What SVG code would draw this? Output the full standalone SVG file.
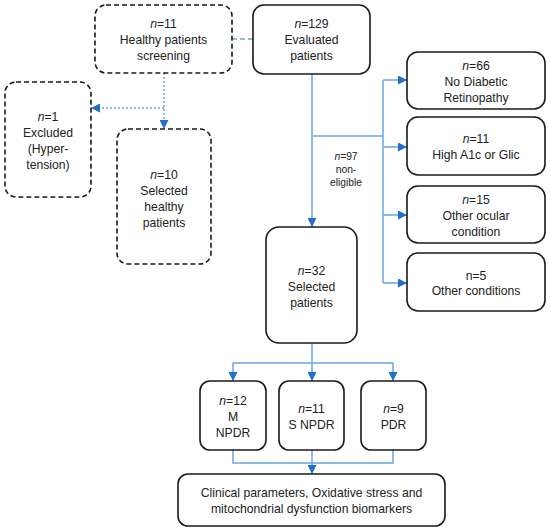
<svg xmlns="http://www.w3.org/2000/svg" width="550" height="532" viewBox="0 0 550 532">
<style>
.box{fill:#fff;stroke:#1a1a1a;stroke-width:1.6}
.dbox{fill:#fff;stroke:#1a1a1a;stroke-width:1.6;stroke-dasharray:5,3}
.t{font-family:"Liberation Sans",Arial,sans-serif;font-size:12.2px;fill:#222;text-anchor:middle}
.s{font-family:"Liberation Sans",Arial,sans-serif;font-size:10.3px;fill:#222;text-anchor:middle}
.ln{fill:none;stroke:#6aa5e6;stroke-width:1.5}
.dash{stroke-dasharray:5,3}
.dot{stroke-dasharray:2,2}
</style>
<defs>
<marker id="ah2" viewBox="0 0 10 10" refX="10" refY="5" markerWidth="9" markerHeight="9" orient="auto" markerUnits="userSpaceOnUse">
<path d="M0,0 L10,5 L0,10 z" fill="#1f6fd0"/>
</marker>
</defs>
<g id="connectors">
<path class="ln dash" d="M232,39 H253"/>
<path class="ln dot" d="M164,73 V129" marker-end="url(#ah2)"/>
<path class="ln dot" d="M164,108 H91" marker-end="url(#ah2)"/>
<path class="ln" d="M312,74 V227" marker-end="url(#ah2)"/>
<path class="ln" d="M313,136 H383"/>
<path class="ln" d="M383,80 V283"/>
<path class="ln" d="M383,80 H407" marker-end="url(#ah2)"/>
<path class="ln" d="M383,147 H407" marker-end="url(#ah2)"/>
<path class="ln" d="M383,215 H407" marker-end="url(#ah2)"/>
<path class="ln" d="M383,283 H407" marker-end="url(#ah2)"/>
<path class="ln" d="M312,343 V381" marker-end="url(#ah2)"/>
<path class="ln" d="M233,363 H393"/>
<path class="ln" d="M233,363 V381" marker-end="url(#ah2)"/>
<path class="ln" d="M393,363 V381" marker-end="url(#ah2)"/>
<path class="ln" d="M233,450 V463 H393 V450"/>
<path class="ln" d="M312,450 V474" marker-end="url(#ah2)"/>
</g>
<g id="screening">
<rect class="dbox" x="95" y="5" width="137" height="68" rx="11"/>
<text class="t" x="163.5" y="28"><tspan font-style="italic">n</tspan>=11</text>
<text class="t" x="163.5" y="44">Healthy patients</text>
<text class="t" x="163.5" y="60">screening</text>
</g>
<g id="excluded">
<rect class="dbox" x="5" y="82" width="86" height="115" rx="11"/>
<text class="t" x="48" y="121"><tspan font-style="italic">n</tspan>=1</text>
<text class="t" x="48" y="137">Excluded</text>
<text class="t" x="48" y="153">(Hyper-</text>
<text class="t" x="48" y="169">tension)</text>
</g>
<g id="healthy">
<rect class="dbox" x="117" y="129" width="94" height="135" rx="11"/>
<text class="t" x="164" y="179"><tspan font-style="italic">n</tspan>=10</text>
<text class="t" x="164" y="195">Selected</text>
<text class="t" x="164" y="211">healthy</text>
<text class="t" x="164" y="227">patients</text>
</g>
<g id="evaluated">
<rect class="box" x="253" y="5" width="117" height="69" rx="11"/>
<text class="t" x="311.5" y="28"><tspan font-style="italic">n</tspan>=129</text>
<text class="t" x="311.5" y="44">Evaluated</text>
<text class="t" x="311.5" y="60">patients</text>
</g>
<g id="nodr">
<rect class="box" x="407" y="52" width="138" height="57" rx="11"/>
<text class="t" x="476" y="70"><tspan font-style="italic">n</tspan>=66</text>
<text class="t" x="476" y="86">No Diabetic</text>
<text class="t" x="476" y="102">Retinopathy</text>
</g>
<g id="higha1c">
<rect class="box" x="407" y="117" width="138" height="58" rx="11"/>
<text class="t" x="476" y="143"><tspan font-style="italic">n</tspan>=11</text>
<text class="t" x="476" y="159">High A1c or Glic</text>
</g>
<g id="ocular">
<rect class="box" x="407" y="186" width="138" height="57" rx="11"/>
<text class="t" x="476" y="204"><tspan font-style="italic">n</tspan>=15</text>
<text class="t" x="476" y="220">Other ocular</text>
<text class="t" x="476" y="236">condition</text>
</g>
<g id="other">
<rect class="box" x="407" y="253" width="138" height="58" rx="11"/>
<text class="t" x="476" y="280">n=5</text>
<text class="t" x="476" y="295">Other conditions</text>
</g>
<g id="label97">
<text class="s" x="346" y="160"><tspan font-style="italic">n</tspan>=97</text>
<text class="s" x="346" y="173">non-</text>
<text class="s" x="346" y="186">eligible</text>
</g>
<g id="selected">
<rect class="box" x="266" y="227" width="91" height="116" rx="13"/>
<text class="t" x="311.5" y="275"><tspan font-style="italic">n</tspan>=32</text>
<text class="t" x="311.5" y="291">Selected</text>
<text class="t" x="311.5" y="307">patients</text>
</g>
<g id="mnpdr">
<rect class="box" x="200" y="381" width="66" height="69" rx="10"/>
<text class="t" x="233" y="405"><tspan font-style="italic">n</tspan>=12</text>
<text class="t" x="233" y="421">M</text>
<text class="t" x="233" y="437">NPDR</text>
</g>
<g id="snpdr">
<rect class="box" x="279" y="381" width="65" height="69" rx="10"/>
<text class="t" x="311.5" y="413"><tspan font-style="italic">n</tspan>=11</text>
<text class="t" x="311.5" y="429">S NPDR</text>
</g>
<g id="pdr">
<rect class="box" x="361" y="381" width="65" height="69" rx="10"/>
<text class="t" x="393.5" y="413"><tspan font-style="italic">n</tspan>=9</text>
<text class="t" x="393.5" y="429">PDR</text>
</g>
<g id="final">
<rect class="box" x="178" y="474" width="267" height="52" rx="10"/>
<text class="t" x="311.5" y="497">Clinical parameters, Oxidative stress and</text>
<text class="t" x="311.5" y="513">mitochondrial dysfunction biomarkers</text>
</g>
</svg>
